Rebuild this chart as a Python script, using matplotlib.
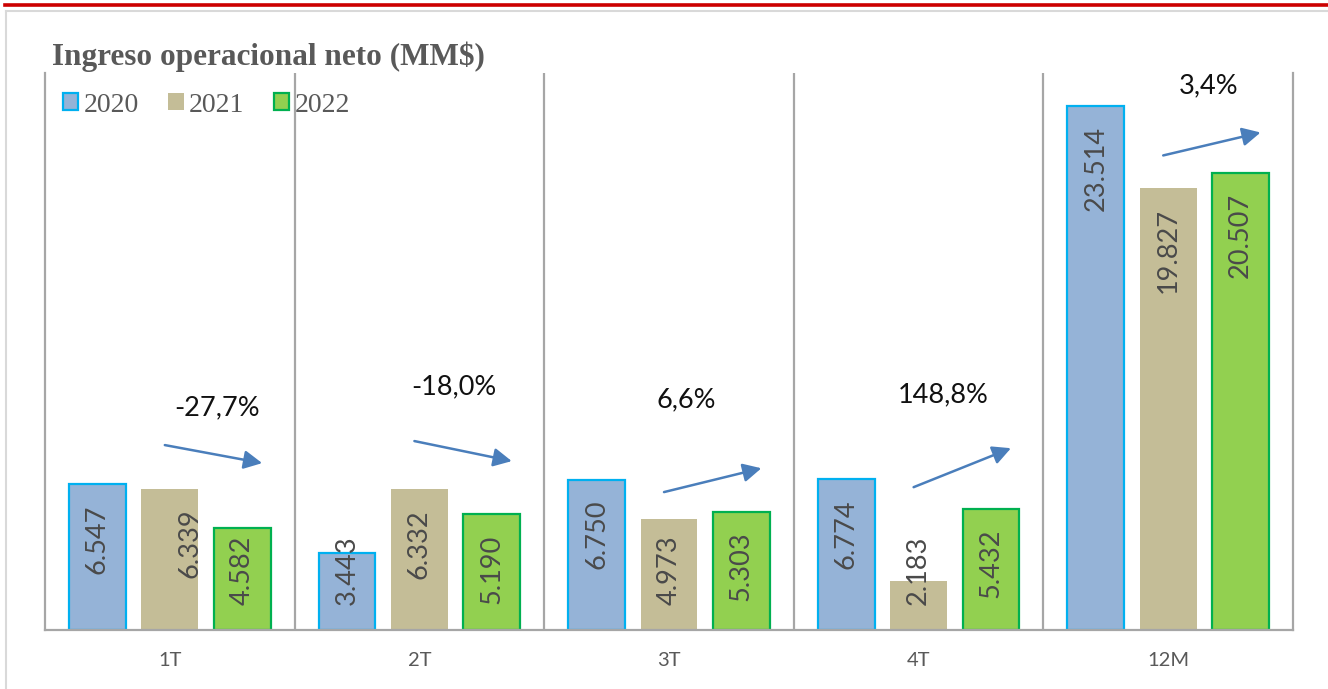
import matplotlib.pyplot as plt
import numpy as np
from matplotlib.patches import Patch
from matplotlib.lines import Line2D

# data
categories = ["1T", "2T", "3T", "4T", "12M"]
years = ["2020", "2021", "2022"]
values_2020 = [6.547, 3.443, 6.750, 6.774, 23.514]
values_2021 = [6.339, 6.332, 4.973, 2.183, 19.827]
values_2022 = [4.582, 5.190, 5.303, 5.432, 20.507]
changes = ["-27,7%", "-18,0%", "6,6%", "148,8%", "3,4%"]

# arrow start/end heights (data units) and label positions
arrow_y0 = [8.30, 8.48, 6.19, 6.41, 21.30]
arrow_y1 = [7.49, 7.58, 7.26, 8.16, 22.33]
change_x = [0.19, 0.14, 0.07, 0.10, 0.16]
change_y = [9.96, 10.9, 10.31, 10.54, 24.44]

fill_colors = ["#95B3D7", "#C4BD97", "#92D050"]
edge_colors = ["#00B0F0", "none", "#00B050"]

W, H = 1328, 689
fig = plt.figure(figsize=(W / 100, H / 100), dpi=100)
ax = fig.add_axes([45 / W, (H - 630) / H, 1248 / W, 557 / H])

x = np.arange(len(categories))
bar_w = 0.228
offs = [-0.29, 0.0, 0.29]
series = [values_2020, values_2021, values_2022]

ax.set_xlim(-0.5, len(categories) - 0.5)
ax.set_ylim(0, 25)

for vals, off, fc, ec in zip(series, offs, fill_colors, edge_colors):
    ax.bar(x + off, vals, width=bar_w, color=fc, edgecolor=ec,
           linewidth=0 if ec == "none" else 1.6, zorder=2)

# value labels, "inside end" like Excel, pushed up from the base for short bars
fig.canvas.draw()
px_unit = ax.transData.transform((0, 1))[1] - ax.transData.transform((0, 0))[1]
label_len = 67
nudge = {(0, 1): 20}  # the 6.339 label sits right of its bar in the source
for s, (vals, off) in enumerate(zip(series, offs)):
    for i, v in enumerate(vals):
        txt = f"{v:.3f}"
        dx = nudge.get((i, s), 0)
        if v * px_unit - 20 - label_len < 25:
            ax.annotate(txt, (x[i] + off, 0), xytext=(dx, 25), textcoords="offset pixels",
                        rotation=90, ha="center", va="bottom", fontsize=19.5,
                        family="Lato", color="#4A4A4A", zorder=3)
        else:
            ax.annotate(txt, (x[i] + off, v), xytext=(dx, -20), textcoords="offset pixels",
                        rotation=90, ha="center", va="top", fontsize=19.5,
                        family="Lato", color="#4A4A4A", zorder=3)

# trend arrows and change labels
for i in range(len(categories)):
    ax.annotate("", xy=(x[i] + 0.37, arrow_y1[i]), xytext=(x[i] - 0.02, arrow_y0[i]),
                arrowprops=dict(arrowstyle="-|>,head_length=0.55,head_width=0.28",
                                color="#4A7EBB", lw=1.8, mutation_scale=20,
                                shrinkA=0, shrinkB=0))
    ax.text(x[i] + change_x[i], change_y[i], changes[i], ha="center", va="center",
            fontsize=19.5, family="Lato", color="#111111")

# separators and frame of the plot
for sx in x[:-1] + 0.5:
    ax.axvline(sx, color="#A6A6A6", lw=1.6, zorder=1)
for side in ["left", "right", "bottom"]:
    ax.spines[side].set_color("#A6A6A6")
    ax.spines[side].set_linewidth(1.6)
ax.spines["top"].set_visible(False)
ax.set_yticks([])
ax.set_xticks(x)
ax.set_xticklabels(categories, fontsize=14.5, family="Lato", color="#595959")
ax.tick_params(axis="x", length=0, pad=16)

# title and legend
fig.text(52 / W, 1 - 57 / H, "Ingreso operacional neto (MM$)", family="Liberation Serif",
         fontweight="bold", fontsize=22.5, color="#595959", ha="left", va="center")
handles = [Patch(facecolor=fc, edgecolor=ec, linewidth=1.6 if ec != "none" else 0)
           for fc, ec in zip(fill_colors, edge_colors)]
leg = fig.legend(handles, years, loc="center left", bbox_to_anchor=(63 / W, 1 - 105 / H),
                 ncol=3, frameon=False, borderpad=0, borderaxespad=0,
                 handlelength=0.55, handleheight=0.55, handletextpad=0.2,
                 columnspacing=1.05, prop={"family": "Liberation Serif", "size": 20})
for t in leg.get_texts():
    t.set_color("#595959")

# outer decoration: red rule and light frame
fig.add_artist(Line2D([5 / W, 1], [1 - 4.5 / H] * 2, color="#CC0000", lw=2.6))
fig.add_artist(Line2D([6 / W, 1], [1 - 11 / H] * 2, color="#D9D9D9", lw=1.5))
fig.add_artist(Line2D([6 / W] * 2, [0, 1 - 11 / H], color="#D9D9D9", lw=1.5))

fig.savefig("out.png", dpi=100)
